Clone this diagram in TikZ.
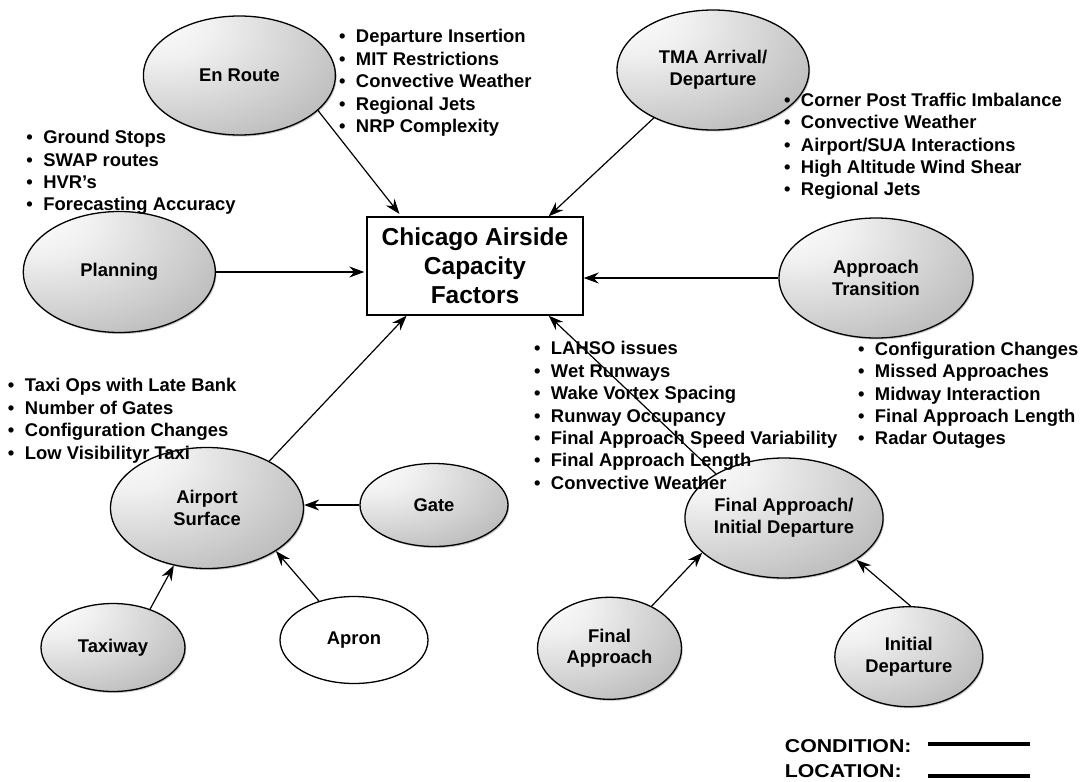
\documentclass[tikz,border=0pt]{standalone}
\usepackage{fontspec}
\setmainfont{Liberation Sans}
\usetikzlibrary{arrows.meta,shapes.geometric,shadows}

% soft highlight from the upper left, darker towards the lower right
\pgfdeclareradialshading{nodeglow}{\pgfpoint{-25bp}{25bp}}{%
  color(0bp)=(white); color(15bp)=(black!6); color(45bp)=(black!26);
  color(75bp)=(black!46); color(100bp)=(black!52)}

\newcommand{\bul}{\makebox[17pt][l]{\textbullet}}

\begin{document}
\begin{tikzpicture}[x=1pt,y=-1pt,
  zone/.style={ellipse, draw, line width=1.3pt, shade, shading=nodeglow,
    inner sep=0pt, align=center,
    font=\bfseries\fontsize{18.4}{21.6}\selectfont,
    drop shadow={shadow xshift=1.2pt, shadow yshift=-1.5pt, opacity=0.45}},
  openzone/.style={ellipse, draw, line width=1.3pt, fill=white,
    inner sep=0pt, align=center,
    font=\bfseries\fontsize{18.4}{21.6}\selectfont},
  hubbox/.style={draw, line width=1.4pt, fill=white, minimum width=216pt,
    minimum height=98pt, inner sep=0pt, align=center,
    font=\bfseries\fontsize{24.5}{29}\selectfont},
  listtext/.style={anchor=north west, inner sep=0pt, align=left,
    font=\bfseries\fontsize{18.4}{22.4}\selectfont},
  legendtext/.style={anchor=base west, inner sep=0pt,
    font=\bfseries\fontsize{18.6}{22}\selectfont},
  link/.style={line width=1.2pt, -{Stealth[length=15pt,width=11pt,inset=5pt]}},
  legendline/.style={line width=3.2pt}
]
\fill[white] (0,0) rectangle (1083,781);
\useasboundingbox (0,0) rectangle (1083,781);

% central factor box
\node[hubbox] (hub) at (475,266) {Chicago Airside\\Capacity\\Factors};

% conditions
\node[zone, minimum width=192pt, minimum height=119pt] (enroute) at (239.4,75.5) {En Route};
\node[zone, minimum width=192pt, minimum height=120pt] (tma) at (713,70) {TMA Arrival/\\Departure};
\node[zone, minimum width=192pt, minimum height=121pt] (planning) at (119.3,272) {Planning};
\node[zone, minimum width=194pt, minimum height=120pt] (approach) at (876,278) {Approach\\Transition};

% locations
\node[zone, minimum width=193pt, minimum height=121pt] (surface) at (207,508) {Airport\\Surface};
\node[zone, minimum width=148pt, minimum height=83pt] (gate) at (434,505) {Gate};
\node[zone, minimum width=144pt, minimum height=88pt] (taxiway) at (113,647.5) {Taxiway};
\node[openzone, minimum width=148pt, minimum height=87pt] (apron) at (354,640) {Apron};
\node[zone, minimum width=192pt, minimum height=120pt] (faid) at (784,518) {Final Approach/\\Initial Departure};
\node[zone, minimum width=144pt, minimum height=102pt] (finalapp) at (609.5,648.3) {Final\\Approach};
\node[zone, minimum width=148pt, minimum height=100pt] (initdep) at (908.8,656.7) {Initial\\Departure};

% factor lists
\node[listtext] (enroutelist) at (338.8,29.4) {\bul Departure Insertion\\\bul MIT Restrictions\\\bul Convective Weather\\\bul Regional Jets\\\bul NRP Complexity};
\node[listtext] (planlist) at (26.2,130.1) {\bul Ground Stops\\\bul SWAP routes\\\bul HVR’s\\\bul Forecasting Accuracy};
\node[listtext] (tmalist) at (783.8,92.7) {\bul Corner Post Traffic Imbalance\\\bul Convective Weather\\\bul Airport/SUA Interactions\\\bul High Altitude Wind Shear\\\bul Regional Jets};
\node[listtext] (approachlist) at (857.8,341.7) {\bul Configuration Changes\\\bul Missed Approaches\\\bul Midway Interaction\\\bul Final Approach Length\\\bul Radar Outages};
\node[listtext] (runwaylist) at (533.8,341.4) {\bul LAHSO issues\\\bul Wet Runways\\\bul Wake Vortex Spacing\\\bul Runway Occupancy\\\bul Final Approach Speed Variability\\\bul Final Approach Length\\\bul Convective Weather};
\node[listtext] (surfacelist) at (7.8,378.4) {\bul Taxi Ops with Late Bank\\\bul Number of Gates\\\bul Configuration Changes\\\bul Low Visibilityr Taxi};

% connectors
\draw[link, shorten >=3pt] (enroute.-24) -- (hub.146.5);
\draw[link] (tma.219) -- (hub.34.6);
\draw[link, shorten >=2pt] (planning.east) -- (planning.east -| hub.west);
\draw[link] (approach.west) -- (approach.west -| hub.east);
\draw[link] (surface.37) -- (hub.216.3);
\draw[link] (faid.147) -- (hub.-34.2);
\draw[link] (gate.west) -- (gate.west -| surface.east);
\draw[link] (taxiway.46) -- (surface.240);
\draw[link] (apron.132) -- (surface.-32.5);
\draw[link] (finalapp.45.7) -- (faid.203);
\draw[link] (initdep.88.6) -- (faid.-30.4);

% legend
\node[legendtext] (condlabel) at (784.7,752) {\scalebox{1.145}[1]{CONDITION:}};
\node[legendtext] (loclabel) at (784.7,777) {\scalebox{1.145}[1]{LOCATION:}};
\coordinate (condA) at (928,744);
\coordinate (condB) at (1030,744);
\coordinate (locA) at (928,776);
\coordinate (locB) at (1030,776);
\draw[legendline] (condA) -- (condB);
\draw[legendline] (locA) -- (locB);
\end{tikzpicture}
\end{document}
